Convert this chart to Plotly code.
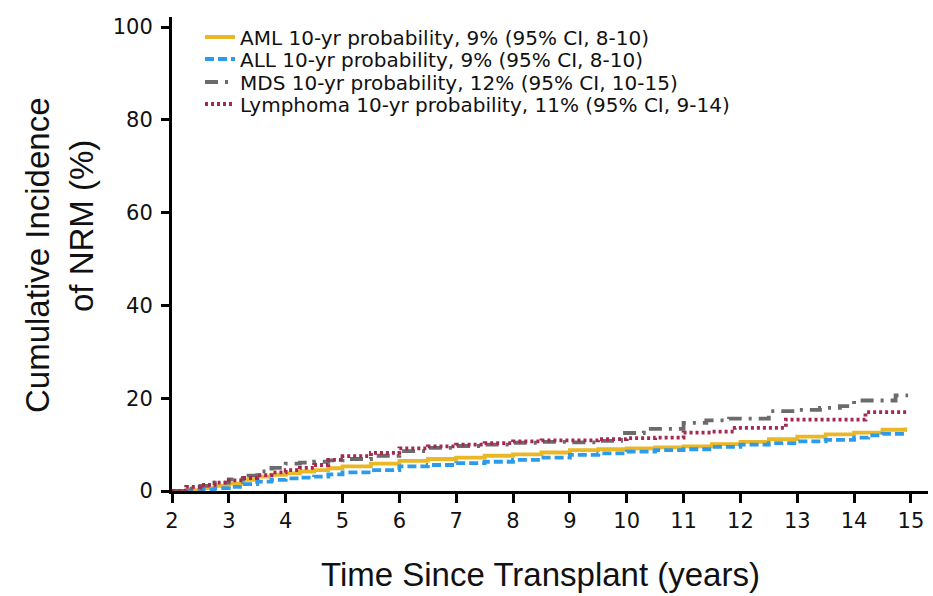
import plotly.graph_objects as go

# Data (years since transplant, cumulative incidence %)
aml_t = [2.0, 2.25, 2.5, 2.75, 3.0, 3.25, 3.5, 3.75, 4.0, 4.25, 4.5, 4.75, 5.0, 5.5, 6.0, 6.5, 7.0, 7.5,
         8.0, 8.5, 9.0, 9.5, 10.0, 10.5, 11.0, 11.5, 12.0, 12.5, 13.0, 13.5, 14.0, 14.5, 14.9]
aml_v = [0, 0.2, 0.6, 1.1, 1.6, 2.4, 3.1, 3.5, 3.8, 4.2, 4.5, 4.9, 5.3, 5.9, 6.5, 6.9, 7.2, 7.6,
         7.9, 8.3, 8.8, 9.0, 9.2, 9.4, 9.6, 10.1, 10.6, 11.2, 11.7, 12.2, 12.6, 13.2, 13.7]

all_t = [2.0, 2.25, 2.5, 2.75, 3.0, 3.25, 3.5, 3.75, 4.0, 4.25, 4.5, 4.75, 5.0, 5.5, 6.0, 6.5, 7.0, 7.5,
         8.0, 8.5, 9.0, 9.5, 10.0, 10.5, 11.0, 11.5, 12.0, 12.5, 13.0, 13.5, 14.0, 14.25, 14.5, 14.9]
all_v = [0, 0.1, 0.3, 0.6, 0.9, 1.5, 2.0, 2.4, 2.7, 2.9, 3.1, 3.6, 4.0, 4.5, 5.3, 5.6, 6.0, 6.3,
         6.7, 7.2, 7.8, 8.1, 8.5, 8.8, 9.0, 9.5, 10.0, 10.3, 10.7, 11.0, 11.5, 12.0, 12.3, 12.6]

mds_t = [2.0, 2.25, 2.5, 2.75, 3.0, 3.25, 3.5, 3.75, 4.0, 4.25, 4.5, 4.75, 5.0, 5.5, 6.0, 6.5, 7.0, 7.5,
         8.0, 8.5, 9.0, 9.5, 9.9, 10.3, 11.0, 11.4, 11.8, 12.5, 13.0, 13.4, 13.75, 14.0, 14.73, 14.95]
mds_v = [0, 0.5, 1.1, 1.8, 2.5, 3.3, 4.2, 5.0, 5.9, 6.1, 6.3, 6.6, 6.9, 7.6, 8.6, 9.3, 9.7, 10.0,
         10.4, 10.6, 10.5, 10.8, 12.5, 13.4, 14.7, 15.2, 15.6, 17.2, 17.5, 17.9, 18.3, 19.5, 20.6, 20.6]

lym_t = [2.0, 2.25, 2.5, 2.75, 3.0, 3.25, 3.5, 3.75, 4.0, 4.25, 4.5, 4.75, 5.0, 5.5, 6.0, 6.5, 7.0, 7.5,
         8.0, 8.5, 9.0, 9.5, 10.0, 10.5, 11.0, 11.5, 11.9, 12.8, 14.2, 14.95]
lym_v = [0, 0.9, 1.3, 1.8, 2.3, 2.8, 3.4, 4.0, 4.5, 5.0, 5.6, 6.7, 7.5, 8.2, 9.2, 9.6, 10.0, 10.3,
         10.7, 10.9, 10.9, 11.2, 11.4, 11.5, 12.6, 12.8, 13.6, 15.4, 17.0, 17.0]

labels = [
    "AML 10-yr probability, 9% (95% CI, 8-10)",
    "ALL 10-yr probability, 9% (95% CI, 8-10)",
    "MDS 10-yr probability, 12% (95% CI, 10-15)",
    "Lymphoma 10-yr probability, 11% (95% CI, 9-14)",
]
x_ticks = list(range(2, 16))
y_ticks = [0, 20, 40, 60, 80, 100]

colors = ["#E9B824", "#2E9BEA", "#6B6B6B", "#A3294F"]
dashes = ["solid", "9px,4px", "13px,7px,3px,7px", "3px,3px"]
series = [(aml_t, aml_v), (all_t, all_v), (mds_t, mds_v), (lym_t, lym_v)]

W, H = 933, 596
ml, mr, mt, mb = 172, 5, 17, 105
pw, ph = W - ml - mr, H - mt - mb
legend_names = ["legend", "legend2", "legend3", "legend4"]
row_y_px = [37, 59, 82, 104]

fig = go.Figure()
for (t, v), name, c, d, lg in zip(series, labels, colors, dashes, legend_names):
    fig.add_trace(go.Scatter(x=t, y=v, mode="lines", name=name, line_shape="hv", legend=lg,
                             line=dict(color=c, width=3.8, dash=d)))

legend_font = dict(size=20, family="DejaVu Sans, Verdana, sans-serif", color="#111111")
legend_layout = {}
for lg, ypx in zip(legend_names, row_y_px):
    legend_layout[lg] = dict(x=(200 - ml) / pw, y=1 - (ypx - mt) / ph, xanchor="left", yanchor="middle",
                             font=legend_font, bgcolor="rgba(0,0,0,0)", itemwidth=30)

fig.update_layout(
    width=W, height=H,
    margin=dict(l=ml, r=mr, t=mt, b=mb),
    paper_bgcolor="white", plot_bgcolor="white",
    font=dict(family="DejaVu Sans, Verdana, sans-serif", color="black"),
    showlegend=True,
    **legend_layout,
)
fig.update_xaxes(range=[2, 2 + pw / 56.84], tickvals=x_ticks,
                 ticktext=[str(v) for v in x_ticks],
                 showline=True, linecolor="black", linewidth=3, showgrid=False, zeroline=False,
                 ticks="outside", ticklen=9, tickwidth=2.5, tickcolor="black",
                 tickfont=dict(size=21, family="DejaVu Sans, sans-serif", color="#111111"),
                 fixedrange=True)
fig.update_yaxes(range=[0, ph / 4.64], tickvals=y_ticks,
                 showline=True, linecolor="black", linewidth=3, showgrid=False, zeroline=False,
                 ticks="outside", ticklen=8, tickwidth=2.5, tickcolor="black",
                 tickfont=dict(size=21, family="DejaVu Sans, sans-serif", color="#111111"),
                 ticklabelstandoff=4, fixedrange=True)

title_font = dict(family="Liberation Sans, Arial, sans-serif", size=33, color="#111111")
fig.add_annotation(text="Time Since Transplant (years)", xref="paper", yref="paper",
                   x=(540 - ml) / pw, y=-(574 - (H - mb)) / ph,
                   xanchor="center", yanchor="middle", showarrow=False, font=title_font)
fig.add_annotation(text="Cumulative Incidence", xref="paper", yref="paper",
                   x=-(ml - 37) / pw, y=1 - (255 - mt) / ph,
                   xanchor="center", yanchor="middle", textangle=-90, showarrow=False,
                   font=title_font)
fig.add_annotation(text="of NRM (%)", xref="paper", yref="paper",
                   x=-(ml - 81) / pw, y=1 - (226 - mt) / ph,
                   xanchor="center", yanchor="middle", textangle=-90, showarrow=False,
                   font=title_font)

fig.write_html("out.html")
